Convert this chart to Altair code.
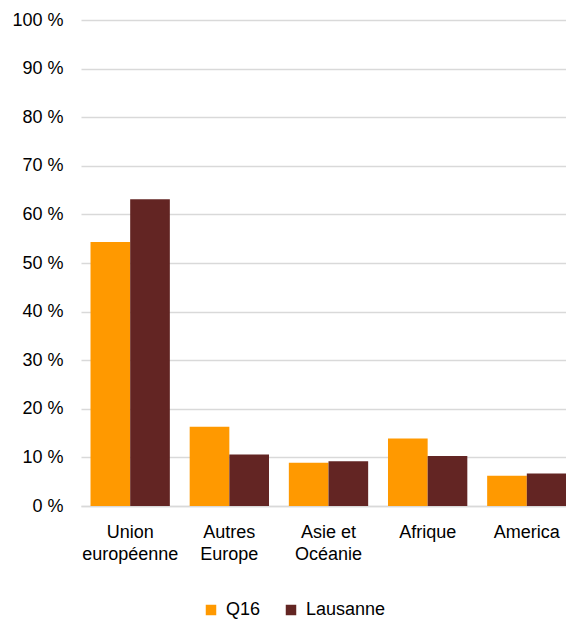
import altair as alt
import pandas as pd

categories = ["Union|européenne", "Autres|Europe", "Asie et|Océanie", "Afrique", "America"]
series = ["Q16", "Lausanne"]
q16 = [54.3, 16.3, 8.9, 13.9, 6.2]
lausanne = [63.1, 10.6, 9.2, 10.3, 6.7]
colors = ["#FF9900", "#632523"]

rows = []
for c, a, b in zip(categories, q16, lausanne):
    rows.append({"cat": c, "series": "Q16", "value": a})
    rows.append({"cat": c, "series": "Lausanne", "value": b})
df = pd.DataFrame(rows)

font = "Liberation Sans"

chart = alt.Chart(df).mark_bar(stroke=None).encode(
    x=alt.X("cat:N", sort=categories, title=None,
            scale=alt.Scale(paddingInner=0.2, paddingOuter=0.096, range=[0, 495]),
            axis=alt.Axis(labelAngle=0, labelExpr="split(datum.label, '|')",
                          labelFont=font, labelFontSize=18, labelColor="#000000",
                          labelPadding=17, labelLineHeight=22, ticks=False,
                          domainColor="#d9d9d9", domainWidth=1.5, labelBaseline="top")),
    xOffset=alt.XOffset("series:N", sort=series),
    y=alt.Y("value:Q", title=None,
            scale=alt.Scale(domain=[0, 100], nice=False),
            axis=alt.Axis(values=list(range(0, 101, 10)), labelExpr="datum.value + ' %'",
                          labelFont=font, labelFontSize=18, labelColor="#000000",
                          labelPadding=18, ticks=False, domain=False,
                          gridColor="#d9d9d9", gridWidth=1.5)),
    color=alt.Color("series:N", sort=series,
                    scale=alt.Scale(domain=series, range=colors),
                    legend=alt.Legend(title=None, orient="none", direction="horizontal",
                                      legendX=121, legendY=581,
                                      symbolType="square", symbolSize=110,
                                      symbolStrokeWidth=0,
                                      labelFont=font, labelFontSize=18, labelColor="#000000",
                                      labelOffset=6, columnPadding=21)),
).properties(
    width=485, height=486,
    autosize=alt.AutoSizeParams(type="none"),
    padding={"left": 73, "top": 12, "right": 0, "bottom": 115},
).configure_view(stroke=None).configure_axis(labelFont=font)

chart.save("out.html", embed_options={"renderer": "svg", "actions": False})
